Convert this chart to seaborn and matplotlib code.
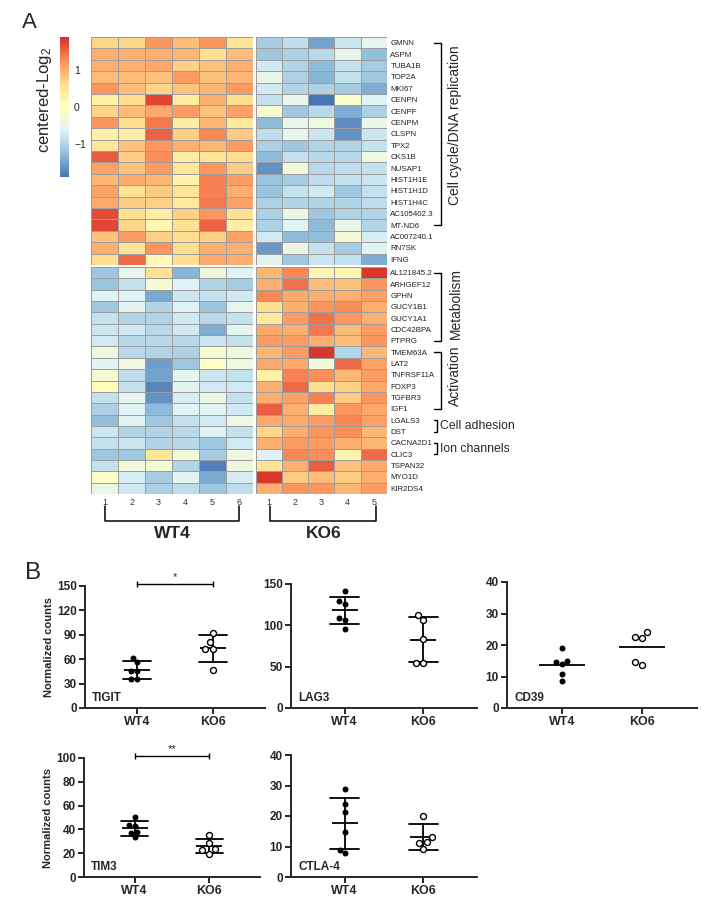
import matplotlib
matplotlib.use("Agg")
import matplotlib.pyplot as plt
import matplotlib.transforms as mtransforms
from matplotlib.colors import LinearSegmentedColormap
import pandas as pd
import seaborn as sns

W, H = 708, 911

# ---- panel A data ----
genes_top = ["GMNN", "ASPM", "TUBA1B", "TOP2A", "MKI67", "CENPN", "CENPF", "CENPM",
             "CLSPN", "TPX2", "CKS1B", "NUSAP1", "HIST1H1E", "HIST1H1D", "HIST1H4C",
             "AC105402.3", "MT-ND6", "AC007240.1", "RN7SK", "IFNG"]
genes_bottom = ["AL121845.2", "ARHGEF12", "GPHN", "GUCY1B1", "GUCY1A1", "CDC42BPA", "PTPRG",
                "TMEM63A", "LAT2", "TNFRSF11A", "FOXP3", "TGFBR3", "IGF1", "LGALS3", "DST",
                "CACNA2D1", "CLIC3", "TSPAN32", "MYO1D", "KIR2DS4"]
wt_samples = ["1", "2", "3", "4", "5", "6"]
ko_samples = ["1", "2", "3", "4", "5"]

wt_top = [
    [0.70, 0.70, 1.20, 0.90, 1.20, 0.55],
    [1.00, 1.00, 1.00, 0.95, 0.60, 0.90],
    [1.00, 1.00, 1.05, 0.75, 0.85, 1.00],
    [0.90, 0.90, 0.85, 1.15, 0.85, 0.95],
    [1.20, 0.90, 0.70, 0.85, 0.95, 1.15],
    [0.30, 0.65, 1.75, 0.40, 1.00, 0.65],
    [0.70, 0.90, 1.05, 1.15, 0.85, 1.10],
    [1.20, 0.65, 1.40, 0.35, 0.95, 0.45],
    [0.30, 0.35, 1.55, 0.75, 1.30, 0.80],
    [0.50, 0.85, 1.20, 1.00, 0.95, 1.15],
    [1.60, 0.80, 1.25, 0.40, 0.55, 0.65],
    [1.10, 0.85, 1.15, 0.50, 1.20, 0.80],
    [0.95, 1.05, 0.95, 0.25, 1.35, 1.15],
    [1.10, 0.60, 0.80, 0.55, 1.35, 1.00],
    [1.05, 0.80, 0.75, 0.45, 1.40, 1.10],
    [1.70, 0.60, 0.35, 0.75, 1.20, 0.60],
    [1.75, 0.70, 0.15, 0.60, 1.55, 0.35],
    [0.85, 1.15, 0.75, 0.65, 0.75, 1.10],
    [1.00, 0.55, 1.20, 0.65, 1.00, 1.00],
    [0.65, 1.50, 0.15, 0.65, 1.05, 1.00],
]
ko_top = [
    [-1.10, -0.90, -1.50, -0.80, -0.50],
    [-1.15, -1.05, -0.95, -0.50, -1.25],
    [-0.75, -1.00, -1.30, -0.85, -1.10],
    [-0.50, -1.05, -1.35, -0.85, -1.15],
    [-0.75, -1.00, -1.05, -1.10, -1.40],
    [-0.85, -0.45, -1.90, -0.10, -0.60],
    [-0.20, -1.15, -0.95, -1.40, -1.05],
    [-1.30, -0.45, -0.35, -1.70, -0.45],
    [-0.90, -0.50, -0.80, -1.65, -0.80],
    [-1.05, -1.15, -1.00, -1.00, -0.85],
    [-1.30, -0.85, -0.95, -0.95, -0.35],
    [-1.65, -0.30, -0.95, -0.90, -0.85],
    [-1.20, -1.10, -0.90, -0.85, -0.80],
    [-1.20, -0.85, -0.75, -1.15, -0.85],
    [-1.05, -1.00, -1.00, -1.00, -0.90],
    [-1.05, -0.45, -1.15, -1.00, -1.00],
    [-1.05, -0.60, -1.30, -0.45, -1.00],
    [-0.75, -1.30, -1.25, -0.25, -0.70],
    [-1.60, -0.45, -0.85, -1.10, -0.60],
    [-0.55, -1.15, -0.80, -0.85, -1.40],
]
wt_bottom = [
    [-1.15, -0.50, 0.60, -1.35, -0.35, -0.60],
    [-1.20, -0.85, -0.25, -0.65, -1.00, -1.10],
    [-0.60, -0.60, -1.45, -0.80, -0.85, -0.75],
    [-1.15, -0.55, -1.00, -0.65, -1.20, -0.50],
    [-0.85, -1.00, -1.00, -0.75, -0.95, -0.85],
    [-0.80, -0.75, -0.95, -0.75, -1.40, -0.55],
    [-0.75, -0.95, -0.95, -0.95, -0.80, -0.85],
    [-0.35, -0.95, -1.00, -1.05, -0.20, -0.35],
    [-0.60, -0.35, -1.55, -1.15, -0.05, -0.35],
    [-0.20, -0.90, -1.50, -0.55, -0.80, -0.85],
    [0.05, -0.85, -1.75, -0.55, -0.75, -0.75],
    [-0.85, -0.50, -1.65, -0.70, -0.40, -0.85],
    [-1.05, -0.60, -1.30, -0.60, -0.60, -0.75],
    [-1.25, -0.60, -1.15, -0.85, -0.75, -0.40],
    [-0.80, -1.00, -1.00, -0.95, -0.65, -0.85],
    [-0.85, -0.80, -1.00, -0.95, -1.15, -0.75],
    [-1.15, -1.15, 0.55, -0.30, -1.10, -0.35],
    [-0.85, -0.30, -0.20, -1.00, -1.80, -0.35],
    [-0.10, -0.70, -1.10, -0.55, -1.45, -0.70],
    [-0.45, -0.75, -1.05, -0.90, -1.15, -0.90],
]
ko_bottom = [
    [0.95, 1.30, 0.20, 0.20, 1.85],
    [1.00, 1.45, 0.90, 0.85, 1.20],
    [1.30, 1.05, 1.00, 1.00, 1.10],
    [0.65, 1.00, 1.20, 1.25, 1.00],
    [0.45, 1.15, 1.45, 1.20, 1.00],
    [1.05, 1.00, 1.40, 0.90, 1.15],
    [1.15, 1.15, 1.00, 0.90, 1.20],
    [0.95, 1.15, 1.85, -1.00, 0.95],
    [1.05, 1.05, -0.30, 1.50, 1.10],
    [0.30, 1.35, 1.25, 0.95, 1.15],
    [1.00, 1.50, 0.65, 0.75, 1.05],
    [1.00, 1.10, 1.35, 0.80, 1.20],
    [1.60, 1.00, 0.40, 1.20, 1.05],
    [1.05, 1.05, 1.15, 1.30, 1.10],
    [0.70, 1.00, 1.20, 1.25, 0.95],
    [1.00, 1.15, 1.15, 1.00, 0.95],
    [-0.65, 1.30, 1.25, 0.20, 1.50],
    [0.55, 1.00, 1.60, 0.85, 1.05],
    [1.85, 0.80, 0.90, 0.80, 1.00],
    [1.00, 1.20, 1.20, 0.95, 1.15],
]

# gene groups: (label, block, first row, last row, bracket kind)
gene_groups = [
    ("Cell cycle/DNA replication", "top", 0, 16, "long"),
    ("Metabolism", "bottom", 0, 6, "long"),
    ("Activation", "bottom", 7, 12, "long"),
    ("Cell adhesion", "bottom", 13, 14, "short"),
    ("Ion channels", "bottom", 15, 16, "short"),
]

# ---- panel B data ----
groups = ["WT4", "KO6"]
tigit_wt = [62, 56, 45, 45, 36, 36]
tigit_ko = [92, 81, 73, 73, 47]
lag3_wt = [141, 126, 129, 109, 107, 96]
lag3_ko = [106, 112, 84, 55, 55]
cd39_wt = [18.9, 14.6, 15.0, 14.0, 10.8, 8.6]
cd39_ko = [24.0, 22.2, 22.4, 13.7, 14.7]
tim3_wt = [50.4, 43.7, 42.8, 38.0, 37.2, 33.2]
tim3_ko = [34.9, 28.7, 23.7, 22.5, 19.7]
ctla4_wt = [28.9, 23.9, 21.2, 14.7, 7.8, 9.0]
ctla4_ko = [20.1, 13.2, 11.4, 11.2, 9.2]

sns.set_theme(style="ticks")
plt.rcParams["font.family"] = ["Liberation Sans", "DejaVu Sans"]
plt.rcParams["mathtext.default"] = "regular"

cmap = LinearSegmentedColormap.from_list(
    "rdylbu7", ["#4575B4", "#91BFDB", "#E0F3F8", "#FFFFBF", "#FEE090", "#FC8D59", "#D73027"])

fig = plt.figure(figsize=(W / 100, H / 100), dpi=100)


def px_axes(left, top, right, bottom):
    return fig.add_axes([left / W, 1 - bottom / H, (right - left) / W, (bottom - top) / H])


ax_wt_top = px_axes(91.5, 37, 252.5, 265)
ax_ko_top = px_axes(255.5, 37, 387, 265)
ax_wt_bot = px_axes(91.5, 267, 252.5, 494)
ax_ko_bot = px_axes(255.5, 267, 387, 494)
cax = px_axes(60, 37, 68.5, 177)

hm_kws = dict(cmap=cmap, vmin=-1.9, vmax=1.9, linewidths=0.5, linecolor="#9d9d9d")
sns.heatmap(pd.DataFrame(wt_top, index=genes_top, columns=wt_samples), ax=ax_wt_top,
            cbar_ax=cax, cbar_kws={"ticks": [-1, 0, 1]}, xticklabels=False, yticklabels=False, **hm_kws)
sns.heatmap(pd.DataFrame(ko_top, index=genes_top, columns=ko_samples), ax=ax_ko_top,
            cbar=False, xticklabels=False, yticklabels=True, **hm_kws)
sns.heatmap(pd.DataFrame(wt_bottom, index=genes_bottom, columns=wt_samples), ax=ax_wt_bot,
            cbar=False, xticklabels=True, yticklabels=False, **hm_kws)
sns.heatmap(pd.DataFrame(ko_bottom, index=genes_bottom, columns=ko_samples), ax=ax_ko_bot,
            cbar=False, xticklabels=True, yticklabels=True, **hm_kws)

for ax in (ax_wt_top, ax_ko_top, ax_wt_bot, ax_ko_bot):
    ax.set_xlabel("")
    ax.set_ylabel("")
    ax.tick_params(length=0)
for ax in (ax_ko_top, ax_ko_bot):
    ax.yaxis.tick_right()
    ax.tick_params(axis="y", labelsize=5.7, pad=2.5, labelrotation=0, colors="#222222")
for ax in (ax_wt_bot, ax_ko_bot):
    ax.tick_params(axis="x", labelsize=6.5, pad=3, labelrotation=0, colors="#333333")

cax.tick_params(length=0, labelsize=7.5, pad=4)
cbar = ax_wt_top.collections[0].colorbar
cbar.outline.set_visible(False)
fig.text(45 / W, 1 - 100 / H, "centered-Log$_2$", rotation=90, ha="center", va="center", fontsize=12)

# column group brackets
for ax, x0, x1, label in ((ax_wt_bot, 0.5, 5.5, "WT4"), (ax_ko_bot, 0.55, 4.6, "KO6")):
    tr = mtransforms.blended_transform_factory(ax.transData, ax.transAxes)
    ax.plot([x0, x0, x1, x1], [-0.053, -0.118, -0.118, -0.053], color="black", lw=1.1,
            transform=tr, clip_on=False)
    ax.text((x0 + x1) / 2, -0.172, label, transform=tr, ha="center", va="center",
            fontsize=12.5, fontweight="bold")

# gene group brackets (text slightly above bracket middle, as in the original)
text_shift = {"Cell cycle/DNA replication": -0.8, "Metabolism": -0.3, "Activation": -0.4}
for label, block, r0, r1, kind in gene_groups:
    ax = ax_ko_top if block == "top" else ax_ko_bot
    tr = mtransforms.blended_transform_factory(ax.transAxes, ax.transData)
    y0, y1 = r0 + 0.5, r1 + 0.5
    if kind == "long":
        xv, xt = 1.408, 1.357
        ax.plot([xt, xv, xv, xt], [y0, y0, y1, y1], color="black", lw=1.0,
                transform=tr, clip_on=False)
        ax.text(1.52, (y0 + y1) / 2 + text_shift[label], label, transform=tr, rotation=90,
                ha="center", va="center", fontsize=10)
    else:
        xv, xt = 1.378, 1.357
        ax.plot([xt, xv, xv, xt], [y0, y0, y1, y1], color="black", lw=1.0,
                transform=tr, clip_on=False)
        ax.text(1.405, (y0 + y1) / 2, label, transform=tr, ha="left", va="center",
                fontsize=8.8)

fig.text(22 / W, 1 - 22 / H, "A", fontsize=16, ha="left", va="center")
fig.text(25 / W, 1 - 573 / H, "B", fontsize=17.5, ha="left", va="center")


def dot_panel(ax, gene, wt, ko, ymax, step, sd=True, ylabel=False, sig=None):
    df = pd.DataFrame({"group": ["WT4"] * len(wt) + ["KO6"] * len(ko), "value": wt + ko})
    sns.swarmplot(data=df[df["group"] == "WT4"], x="group", y="value", order=groups,
                  color="black", size=4.3, ax=ax, zorder=3)
    sns.swarmplot(data=df[df["group"] == "KO6"], x="group", y="value", order=groups,
                  color="white", edgecolor="black", linewidth=1.0, size=4.3, ax=ax, zorder=3)
    sns.pointplot(data=df, x="group", y="value", order=groups,
                  errorbar="sd" if sd else None, capsize=0.36 if sd else 0,
                  color="black", marker="_", markersize=19 if sd else 33,
                  markeredgewidth=1.3, linestyle="none", err_kws={"linewidth": 1.3}, ax=ax)
    ax.set_xlim(-0.68, 1.68)
    ax.set_ylim(0, ymax)
    ax.set_yticks(list(range(0, ymax + 1, step)))
    ax.set_xticks([0, 1], groups)
    ax.set_xlabel("")
    ax.set_ylabel("Normalized counts" if ylabel else "", fontsize=8, fontweight="bold",
                  labelpad=2)
    sns.despine(ax=ax)
    for side in ("left", "bottom"):
        ax.spines[side].set_linewidth(1.4)
    ax.tick_params(width=1.4, length=4, labelsize=8.5, pad=2)
    ax.tick_params(axis="x", labelsize=9)
    for lbl in ax.get_xticklabels() + ax.get_yticklabels():
        lbl.set_fontweight("bold")
    ax.text(0.04, 0.03, gene, transform=ax.transAxes, fontsize=8.5, fontweight="bold",
            ha="left", va="bottom")
    if sig:
        y, stars, gap = sig
        ax.plot([0, 1], [y, y], color="black", lw=1.0, marker="|", markersize=5,
                markeredgewidth=1.0, clip_on=False)
        ax.text(0.5, y + gap, stars, ha="center", va="bottom", fontsize=8, clip_on=False)


ax_tigit = px_axes(85, 586, 265, 708)
ax_lag3 = px_axes(291, 584, 477, 708)
ax_cd39 = px_axes(507, 582, 697, 708)
ax_tim3 = px_axes(84, 758, 260, 877)
ax_ctla4 = px_axes(291, 755, 477, 877)

dot_panel(ax_tigit, "TIGIT", tigit_wt, tigit_ko, 150, 30, ylabel=True, sig=(153, "*", 2))
dot_panel(ax_lag3, "LAG3", lag3_wt, lag3_ko, 150, 50)
dot_panel(ax_cd39, "CD39", cd39_wt, cd39_ko, 40, 10, sd=False)
dot_panel(ax_tim3, "TIM3", tim3_wt, tim3_ko, 100, 20, ylabel=True, sig=(101.5, "**", 2))
dot_panel(ax_ctla4, "CTLA-4", ctla4_wt, ctla4_ko, 40, 10)

fig.savefig("out.png", dpi=100)
